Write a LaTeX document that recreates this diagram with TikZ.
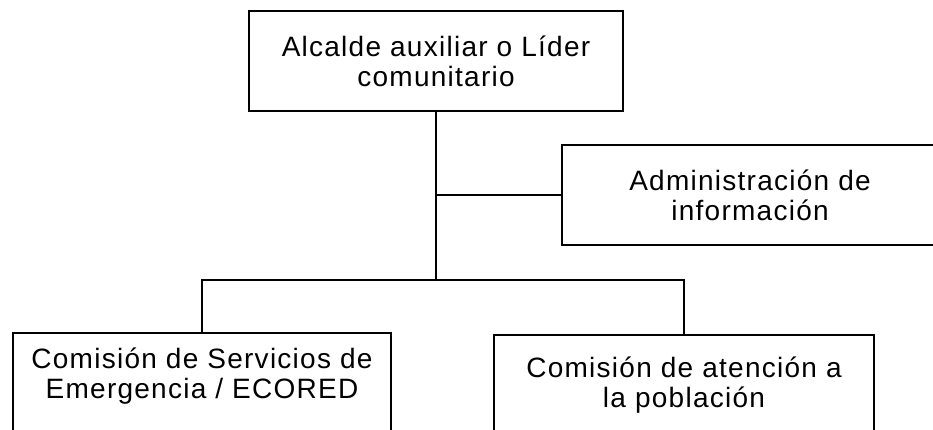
\documentclass[tikz,border=0pt]{standalone}
\usepackage{fontspec}
\setmainfont[LetterSpace=4.5]{Liberation Sans}
\begin{document}
\begin{tikzpicture}[x=1pt,y=-1pt,
  box/.style={draw, line width=1.2pt, minimum height=100pt, inner sep=0pt,
    align=center, font=\fontsize{28}{30}\selectfont},
  link/.style={line width=1.2pt}]
\clip (0,0) rectangle (933,430);
\node[box, minimum width=374pt] (top) at (436,61) {Alcalde auxiliar o Líder\\comunitario};
\node[box, minimum width=376pt] (admin) at (750,195) {Administración de\\información};
\node[box, minimum width=378pt, text depth=20pt] (left) at (202,383) {Comisión de Servicios de\\Emergencia / ECORED};
\node[box, minimum width=380pt] (right) at (684,385) {Comisión de atención a\\la población};
\coordinate (hub) at (436,280);
\draw[link] (top.south) -- (hub);
\draw[link] (top.south |- admin.west) -- (admin.west);
\draw[link] (left.north) |- (hub) -| (right.north);
\end{tikzpicture}
\end{document}
